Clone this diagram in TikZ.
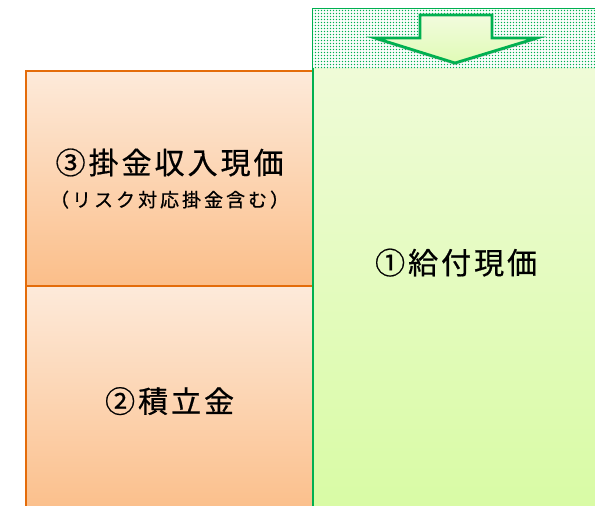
\documentclass[tikz,border=0pt]{standalone}
\usepackage{fontspec}
\setmainfont{Noto Sans CJK JP}[FakeBold=0.6]
\usetikzlibrary{patterns, shadows}

\definecolor{oline}{RGB}{228,108,10}
\definecolor{otop}{RGB}{253,234,218}
\definecolor{obot}{RGB}{251,190,137}
\definecolor{gline}{RGB}{0,176,80}
\definecolor{gtop}{RGB}{242,251,222}
\definecolor{gbot}{RGB}{216,251,164}

\pgfdeclarepatternformonly{sqdots}{\pgfqpoint{-1pt}{-1pt}}{\pgfqpoint{2pt}{2pt}}%
  {\pgfqpoint{3pt}{3pt}}%
  {\pgfpathrectangle{\pgfqpoint{0pt}{0pt}}{\pgfqpoint{1.8pt}{1.8pt}}\pgfusepath{fill}}

\newcommand\tgap{\hspace{3pt}}

\begin{document}
\begin{tikzpicture}[
x=1pt, y=-1pt,
   box/.style = {draw, line width=2.2pt, inner sep=0pt, anchor=north west,
                 minimum width=#1},
  obox/.style = {box=287pt, draw=oline, top color=otop, bottom color=obot},
  gbox/.style = {box=286pt, draw=gline, top color=gtop, bottom color=gbot},
  bigtxt/.style = {font=\fontsize{30}{33}\selectfont}
                    ]
\useasboundingbox (0,0) rectangle (595,506);
\begin{scope}
\clip (0,0) rectangle (595,506);
% contributions and reserve
\node (kake) [obox, minimum height=215pt, bigtxt, align=center] at (25,70)
      {③\tgap 掛\tgap 金\tgap 収\tgap 入\tgap 現\tgap 価\\
       {\fontsize{19}{22}\selectfont
        （\tgap リ\tgap ス\tgap ク\tgap 対\tgap 応\tgap 掛\tgap 金\tgap 含\tgap む\tgap ）}};
\node (tsumi) [obox, minimum height=230pt, bigtxt] at (25,285)
      {②\tgap 積\tgap 立\tgap 金};
% benefits
\node (kyufu) [gbox, minimum height=507pt, bigtxt] at (312,8)
      {①\tgap 給\tgap 付\tgap 現\tgap 価};
\fill[white] (313.1,9.1) rectangle (597,68);
\fill[pattern=sqdots, pattern color=gline] (313.1,9.1) rectangle (597,68);
%
\draw[gline, line width=2.8pt, line join=miter, top color=gtop, bottom color=gbot!70!gtop,
      drop shadow={opacity=0.35, shadow xshift=0pt, shadow yshift=-2pt}]
      (420,15) -- (492,15) -- (492,38) -- (537,38) -- (455,63)
      -- (375,38) -- (420,38) -- cycle;
\end{scope}
\end{tikzpicture}
\end{document}
